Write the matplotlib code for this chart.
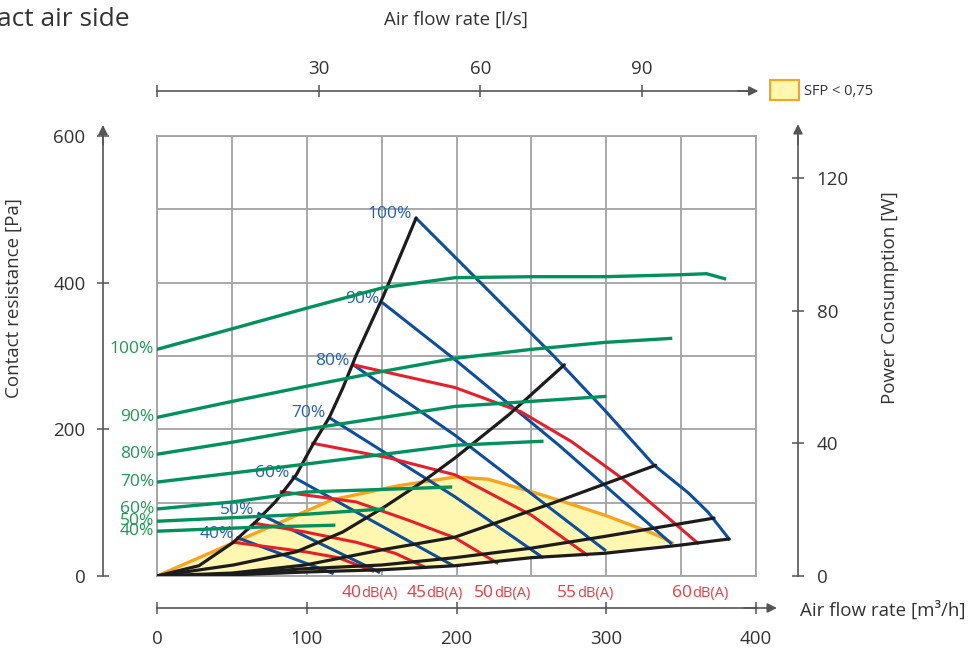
"""Fan chart, contact air side

Pressure / air flow diagram with fan speed lines, sound levels,
system curves and power consumption.
"""

import matplotlib
matplotlib.use("Agg")
import matplotlib.pyplot as plt
from matplotlib.patches import Patch

plt.rcParams["font.family"] = ["Open Sans", "DejaVu Sans"]

# Colours
GRID_COLOR = "#a3a3a3"
AXIS_COLOR = "#555555"
TEXT_COLOR = "#333333"
GREEN = "#00915c"
GREEN_TXT = "#1c9a52"
BLUE = "#0d4f9e"
BLUE_TXT = "#2262b0"
RED = "#e6202b"
RED_TXT = "#ea3b42"
BLACK = "#1c1c1c"
ORANGE = "#f7a51c"
FILL = "#fff6b0"

# System curves (black): air flow [m3/h], pressure [Pa]
SYS1_X = [0, 28, 51, 66, 79, 93, 104, 115, 124, 133, 151, 173]
SYS1_Y = [0, 14, 46, 74, 101, 138, 179, 216, 256, 301, 381, 488]
SYS2_X = [0, 51, 93, 124, 151, 177, 199, 235, 272]
SYS2_Y = [0, 15, 33, 60, 93, 128, 161, 220, 288]
SYS3_X = [0, 50, 99, 151, 199, 265, 333]
SYS3_Y = [0, 4, 15, 36, 53, 100, 151]
SYS4_X = [0, 50, 95, 150, 199, 250, 299, 372]
SYS4_Y = [0, 2, 9.5, 15, 25, 38, 54, 79]
SYS5_X = [0, 50, 100, 150, 199, 250, 299, 349, 382]
SYS5_Y = [0, 1.5, 5.5, 8.5, 14, 25, 31, 42, 50.5]

# Fan speed lines (blue)
FAN_LABELS = ["40%", "50%", "60%", "70%", "80%", "90%", "100%"]
FAN40_X = [54, 117]
FAN40_Y = [52, 4]
FAN50_X = [68, 148]
FAN50_Y = [85, 5.5]
FAN60_X = [91, 143, 197]
FAN60_Y = [135, 76, 15]
FAN70_X = [115, 199, 257]
FAN70_Y = [216, 108, 26]
FAN80_X = [131, 199, 299]
FAN80_Y = [288, 192, 35.5]
FAN90_X = [151, 199, 268, 343]
FAN90_Y = [372, 295, 179, 45]
FAN100_X = [173, 264, 299, 332, 355, 368, 382]
FAN100_Y = [488, 302, 226, 151, 113, 87, 50.5]

# Sound levels (red)
DB_LABELS = ["40", "45", "50", "55", "60"]
DB40_X = [51, 99, 121, 144]
DB40_Y = [46, 33, 25, 7]
DB45_X = [65, 99, 133, 159, 179]
DB45_Y = [72, 60, 46, 31, 12]
DB50_X = [83, 133, 168, 199, 227]
DB50_Y = [115, 101, 76, 52, 18]
DB55_X = [104, 155, 199, 250, 287]
DB55_Y = [181, 161, 138, 83, 29]
DB60_X = [131, 199, 243, 277, 310, 337, 361]
DB60_Y = [288, 257, 224, 183, 134, 87, 45]

# SFP < 0,75 boundary (orange)
SFP_X = [0, 117, 161, 199, 221, 250, 272, 299, 325, 337, 344]
SFP_Y = [0, 104, 123, 135, 132, 115, 101, 83, 63, 53, 45]

# Power consumption (green): air flow [m3/h], power [W]
PWR_LABELS = ["40%", "50%", "60%", "70%", "80%", "90%", "100%"]
PWR40_X = [0, 66, 118]
PWR40_Y = [13.5, 14.7, 15.3]
PWR50_X = [0, 99, 151]
PWR50_Y = [16.5, 18.6, 20.2]
PWR60_X = [0, 50, 99, 196]
PWR60_Y = [20.2, 22.3, 25.3, 26.8]
PWR70_X = [0, 50, 99, 199, 257]
PWR70_Y = [28.3, 31.0, 33.7, 39.4, 40.6]
PWR80_X = [0, 50, 99, 199, 299]
PWR80_Y = [36.7, 40.3, 44.2, 51.1, 54.1]
PWR90_X = [0, 50, 99, 150, 199, 250, 299, 343]
PWR90_Y = [47.8, 52.6, 57.1, 61.6, 65.6, 68.3, 70.4, 71.6]
PWR100_X = [0, 51, 99, 151, 199, 250, 299, 350, 367, 379]
PWR100_Y = [68.3, 74.6, 80.6, 86.9, 89.9, 90.2, 90.2, 90.8, 91.1, 89.6]

# Axis ticks
FLOW_TICKS = [0, 100, 200, 300, 400]
LS_TICKS = [0, 30, 60, 90]
LS_LABELS = ["", "30", "60", "90"]
PA_TICKS = [0, 200, 400, 600]
W_TICKS = [0, 40, 80, 120]


def axis_arrow(ax, start, end):
    """Arrow head at the end of an axis line (axes fraction coords)"""
    ax.annotate("", xy=end, xytext=start, xycoords="axes fraction",
                annotation_clip=False,
                arrowprops=dict(arrowstyle="-|>", color=AXIS_COLOR, lw=1.2,
                                shrinkA=0, shrinkB=0, mutation_scale=14))


def style_axis(axis_obj, which, spine, pad):
    """Common look for the outer axis lines"""
    axis_obj.tick_params(axis=which, direction="inout", length=9, width=1.1,
                         color=AXIS_COLOR, labelsize=13.5,
                         labelcolor=TEXT_COLOR, pad=pad)
    axis_obj.spines[spine].set_color(AXIS_COLOR)
    axis_obj.spines[spine].set_linewidth(1.2)


def main() -> None:
    """Main"""
    fig = plt.figure(figsize=(9.74, 6.48), dpi=100)
    ax = fig.add_axes([157 / 974, 72 / 648, 599 / 974, 440 / 648])
    ax.set_xlim(0, 400)
    ax.set_ylim(0, 600)

    # grid box
    ax.set_xticks(range(0, 401, 50))
    ax.set_yticks(range(0, 601, 100))
    ax.tick_params(length=0, labelbottom=False, labelleft=False)
    ax.grid(True, color=GRID_COLOR, lw=1.3)
    ax.set_axisbelow(True)
    for s in ax.spines.values():
        s.set_color(GRID_COLOR)
        s.set_linewidth(1.3)

    # SFP area, closed along the lowest system curve
    low_x = [x for x in SYS5_X if x < SFP_X[-1]]
    low_y = SYS5_Y[:len(low_x)]
    ax.fill(SFP_X + low_x[::-1], SFP_Y + low_y[::-1], color=FILL, lw=0,
            zorder=1)
    ax.plot(SFP_X, SFP_Y, color=ORANGE, lw=2.4, zorder=2)

    fans = [(FAN40_X, FAN40_Y), (FAN50_X, FAN50_Y), (FAN60_X, FAN60_Y),
            (FAN70_X, FAN70_Y), (FAN80_X, FAN80_Y), (FAN90_X, FAN90_Y),
            (FAN100_X, FAN100_Y)]
    for (fx, fy), lab in zip(fans, FAN_LABELS):
        ax.plot(fx, fy, color=BLUE, lw=2.2, zorder=3)
        ax.annotate(lab, (fx[0], fy[0]), xytext=(-3, 3),
                    textcoords="offset points", ha="right", va="center",
                    color=BLUE_TXT, fontsize=12.5, annotation_clip=False)

    # the dB labels sit a little right of some line ends
    label_shift = [-8, 1, -2, -7, -4]
    sounds = [(DB40_X, DB40_Y), (DB45_X, DB45_Y), (DB50_X, DB50_Y),
              (DB55_X, DB55_Y), (DB60_X, DB60_Y)]
    for (dx, dy), lab, sh in zip(sounds, DB_LABELS, label_shift):
        ax.plot(dx, dy, color=RED, lw=2.2, zorder=4)
        ax.annotate(lab, (dx[-1], 0), xytext=(sh, -15),
                    textcoords="offset points", ha="right", va="baseline",
                    color=RED_TXT, fontsize=12.5, annotation_clip=False)
        ax.annotate("dB(A)", (dx[-1], 0), xytext=(sh, -15),
                    textcoords="offset points", ha="left", va="baseline",
                    color=RED_TXT, fontsize=10.5, annotation_clip=False)

    systems = [(SYS1_X, SYS1_Y), (SYS2_X, SYS2_Y), (SYS3_X, SYS3_Y),
               (SYS4_X, SYS4_Y), (SYS5_X, SYS5_Y)]
    for sx, sy in systems:
        ax.plot(sx, sy, color=BLACK, lw=2.3, zorder=5,
                solid_capstyle="round")

    # power consumption on its own scale
    ax2 = ax.twinx()
    ax2.set_ylim(0, 132.6)
    for name in ["top", "left", "bottom"]:
        ax2.spines[name].set_visible(False)
    ax2.spines["right"].set_position(("axes", 1.0701))
    ax2.set_yticks(W_TICKS)
    style_axis(ax2, "y", "right", 9)
    powers = [(PWR40_X, PWR40_Y), (PWR50_X, PWR50_Y), (PWR60_X, PWR60_Y),
              (PWR70_X, PWR70_Y), (PWR80_X, PWR80_Y), (PWR90_X, PWR90_Y),
              (PWR100_X, PWR100_Y)]
    for (px, py), lab in zip(powers, PWR_LABELS):
        ax2.plot(px, py, color=GREEN, lw=2.4, zorder=6)
        ax2.annotate(lab, (px[0], py[0]), xytext=(-2, 0),
                     textcoords="offset points", ha="right", va="center",
                     color=GREEN_TXT, fontsize=12.5, annotation_clip=False)

    # outer axes
    sec_left = ax.secondary_yaxis(-0.0902)
    sec_left.set_yticks(PA_TICKS)
    style_axis(sec_left, "y", "left", 8)

    sec_bottom = ax.secondary_xaxis(-0.0727)
    sec_bottom.set_xticks(FLOW_TICKS)
    style_axis(sec_bottom, "x", "bottom", 11)

    sec_top = ax.secondary_xaxis(1.1023, functions=(lambda v: v / 3.6,
                                                    lambda v: v * 3.6))
    sec_top.set_xticks(LS_TICKS)
    sec_top.set_xticklabels(LS_LABELS)
    style_axis(sec_top, "x", "top", 5)

    axis_arrow(ax, (-0.0902, 0.98), (-0.0902, 1.025))
    axis_arrow(ax, (1.0701, 0.98), (1.0701, 1.027))
    axis_arrow(ax, (0.98, -0.0727), (1.035, -0.0727))
    axis_arrow(ax, (0.97, 1.1023), (1.004, 1.1023))

    # axis titles
    ax.set_ylabel("Contact resistance [Pa]", fontsize=13.5, color=TEXT_COLOR)
    ax.yaxis.set_label_coords(-0.239, 0.632)
    ax.yaxis.label.set_verticalalignment("center")
    ax2.set_ylabel("Power Consumption [W]", fontsize=13.5, color=TEXT_COLOR)
    ax2.yaxis.set_label_coords(1.2237, 0.632)
    ax2.yaxis.label.set_verticalalignment("center")
    ax.set_xlabel("Air flow rate [m³/h]", fontsize=13.5, color=TEXT_COLOR)
    ax.xaxis.set_label_coords(1.0735, -0.0773)
    ax.xaxis.label.set_horizontalalignment("left")
    ax.xaxis.label.set_verticalalignment("center")
    ax.text(0.4992, 1.2636, "Air flow rate [l/s]", transform=ax.transAxes,
            ha="center", va="center", fontsize=13.5, color=TEXT_COLOR)

    fig.text(130 / 974, 1 - 26 / 648, "Contact air side", ha="right",
             va="baseline", fontsize=19, color=TEXT_COLOR)

    fig.legend(handles=[Patch(facecolor=FILL, edgecolor=ORANGE, lw=1.5,
                              label="SFP < 0,75")],
               loc="center left", bbox_to_anchor=(770 / 974, 1 - 90 / 648),
               frameon=False, fontsize=10.5, handlelength=2.0,
               handleheight=1.75, handletextpad=0.35, borderpad=0,
               borderaxespad=0, labelcolor=TEXT_COLOR)

    fig.savefig("out.png", dpi=100)


if __name__ == "__main__":
    main()
